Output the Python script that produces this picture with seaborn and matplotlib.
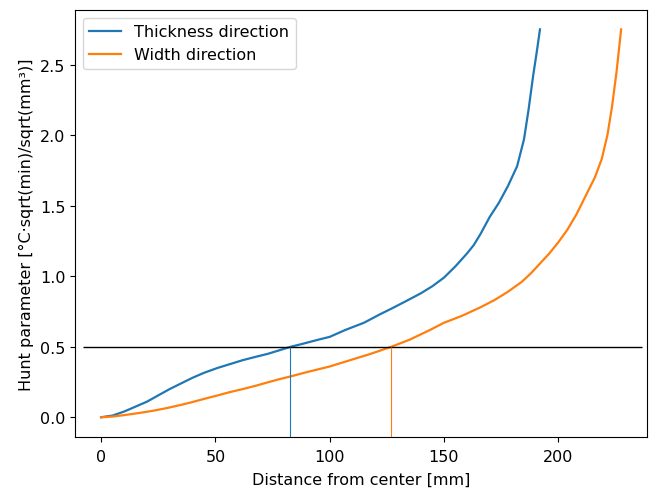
import matplotlib
matplotlib.use("Agg")
import matplotlib.pyplot as plt
import seaborn as sns
import pandas as pd

# Thickness direction (blue)
thick_x = [0, 5, 10, 15, 20, 25, 30, 35, 40, 45, 51, 56, 62, 68, 73, 78, 83, 88, 95,
           100, 107, 115, 122, 127, 133, 140, 145, 150, 155, 160, 163, 166, 170,
           174, 178, 182, 185, 187, 189, 190.5, 192]
thick_y = [0, 0.012, 0.04, 0.075, 0.11, 0.155, 0.20, 0.24, 0.28, 0.315, 0.35, 0.375,
           0.405, 0.43, 0.45, 0.475, 0.50, 0.52, 0.55, 0.57, 0.62, 0.67, 0.73, 0.77,
           0.82, 0.88, 0.93, 0.99, 1.07, 1.16, 1.22, 1.30, 1.42, 1.52, 1.64, 1.78,
           1.97, 2.18, 2.42, 2.58, 2.75]

# Width direction (orange)
width_x = [0, 5, 10, 17, 23, 29, 35, 40, 45, 51, 56, 62, 68, 73, 78, 83, 90, 100,
           110, 118, 127, 135, 144, 150, 158, 166, 172, 178, 184, 188, 192, 196,
           200, 204, 208, 212, 216, 219, 221.5, 223.5, 225.5, 227.5]
width_y = [0, 0.005, 0.015, 0.031, 0.047, 0.066, 0.088, 0.108, 0.13, 0.155, 0.177,
           0.20, 0.225, 0.248, 0.27, 0.29, 0.32, 0.36, 0.41, 0.45, 0.50, 0.55, 0.62,
           0.67, 0.72, 0.78, 0.83, 0.89, 0.96, 1.02, 1.09, 1.16, 1.24, 1.33, 1.44,
           1.57, 1.70, 1.83, 2.0, 2.2, 2.45, 2.75]

threshold = 0.5
thick_cross = 82.6
width_cross = 126.9
hline_span = [-8.0, 236.6]

blue = "#1f77b4"
orange = "#ff7f0e"

plt.rcParams["font.size"] = 11.5

fig = plt.figure(figsize=(6.53, 4.89), dpi=100)
ax = fig.add_axes([0.115, 0.105, 0.876, 0.8725])

df_t = pd.DataFrame({"x": thick_x, "y": thick_y})
df_w = pd.DataFrame({"x": width_x, "y": width_y})
sns.lineplot(data=df_t, x="x", y="y", color=blue, lw=1.6, label="Thickness direction", ax=ax)
sns.lineplot(data=df_w, x="x", y="y", color=orange, lw=1.6, label="Width direction", ax=ax)

xlim = ax.get_xlim()
ylim = ax.get_ylim()
ax.hlines(threshold, hline_span[0], hline_span[1], color="black", lw=1)
ax.vlines(thick_cross, ylim[0], threshold, color=blue, lw=0.8)
ax.vlines(width_cross, ylim[0], threshold, color=orange, lw=0.8)
ax.set_xlim(xlim)
ax.set_ylim(ylim)

ax.set_xticks([0, 50, 100, 150, 200])
ax.set_yticks([0.0, 0.5, 1.0, 1.5, 2.0, 2.5])
ax.tick_params(axis="x", pad=5.5)
ax.set_xlabel("Distance from center [mm]", labelpad=5.5)
ax.set_ylabel("Hunt parameter [°C·sqrt(min)/sqrt(mm³)]")
ax.legend(loc="upper left")

fig.savefig("out.png", dpi=100)
